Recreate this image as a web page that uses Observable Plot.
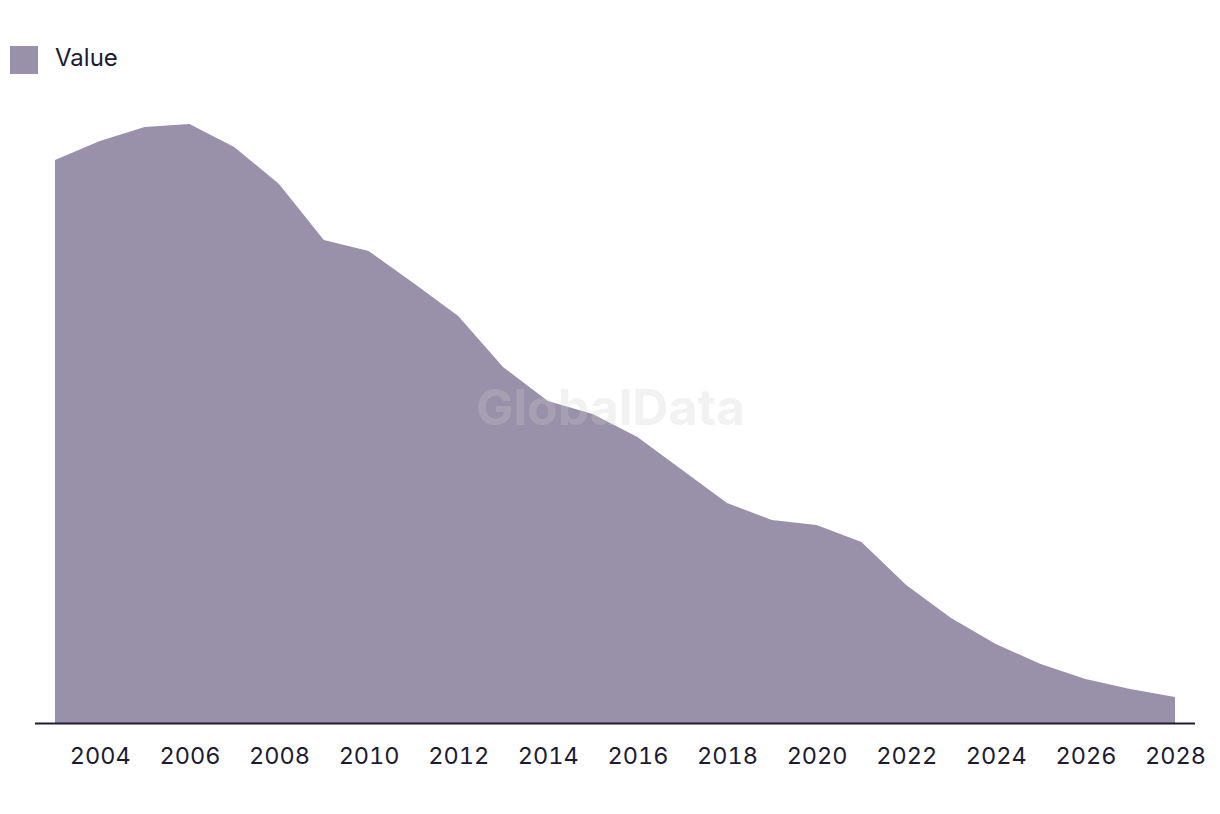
<!DOCTYPE html>
<html>
<head>
<meta charset="utf-8">
<script src="https://cdn.jsdelivr.net/npm/d3@7"></script>
<script src="https://cdn.jsdelivr.net/npm/@observablehq/plot@0.6"></script>
<style>
  html, body { margin: 0; padding: 0; background: #fff; }
  body { width: 1220px; height: 814px; overflow: hidden; font-family: Inter, "Noto Sans", sans-serif; color: #1c1b33; }
  #legend { position: relative; height: 100px; }
  #legend .sw { position: absolute; left: 10px; top: 46px; width: 28px; height: 28px; background: #9991a9; }
  #legend .lb { position: absolute; left: 55px; top: 43px; font-size: 24px; line-height: 30px; }
  #chart svg { display: block; }
</style>
</head>
<body>
<div id="legend"><div class="sw"></div><div class="lb">Value</div></div>
<div id="chart"></div>
<script>
const years = [2003, 2004, 2005, 2006, 2007, 2008, 2009, 2010, 2011, 2012, 2013, 2014, 2015,
               2016, 2017, 2018, 2019, 2020, 2021, 2022, 2023, 2024, 2025, 2026, 2027, 2028];
const values = [563, 582, 596, 599, 576, 539, 483, 472, 440, 407, 356, 322, 309,
                286, 253, 220, 203, 198, 181, 138, 105, 79, 59, 44, 34, 26];
const xTicks = [2004, 2006, 2008, 2010, 2012, 2014, 2016, 2018, 2020, 2022, 2024, 2026, 2028];
const seriesName = "Value";
const watermark = "GlobalData";

const data = years.map((year, i) => ({year, value: values[i], series: seriesName}));

const chart = Plot.plot({
  width: 1220,
  height: 714,
  marginTop: 23,
  marginBottom: 91,
  marginLeft: 35,
  marginRight: 25,
  style: {fontFamily: "Inter, 'Noto Sans', sans-serif", fontSize: "23.5px", color: "#1c1b33", background: "#fff"},
  x: {domain: [2003, 2028], insetLeft: 20, insetRight: 20, label: null},
  y: {domain: [0, 600], axis: null},
  marks: [
    Plot.areaY(data, {x: "year", y: "value", fill: "#9991a9"}),
    Plot.ruleY([0], {stroke: "#1c1b33", strokeWidth: 2}),
    Plot.axisX({ticks: xTicks, tickFormat: d => String(d), tickSize: 0, tickPadding: 24, label: null, fill: "#1c1b33"}),
    Plot.text([watermark], {frameAnchor: "middle", dx: -5, dy: -15, text: d => d, fontSize: 50, fontWeight: "bold", fill: "#cccccc", fillOpacity: 0.26})
  ]
});
document.getElementById("chart").appendChild(chart);
</script>
</body>
</html>
